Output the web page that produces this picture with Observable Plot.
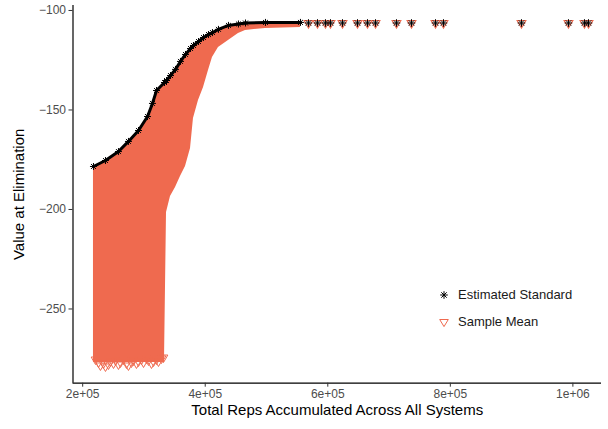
<!DOCTYPE html>
<html><head><meta charset="utf-8">
<script src="https://cdn.jsdelivr.net/npm/d3@7"></script>
<script src="https://cdn.jsdelivr.net/npm/@observablehq/plot@0.6"></script>
<style>
body{margin:0;background:#fff;font-family:"Liberation Sans",Arial,Helvetica,sans-serif}
#wrap{position:relative;width:608px;height:429px}
#legend{position:absolute;left:437px;top:281px;font-size:13px;color:#1a1a1a;line-height:13px}
.row{display:flex;align-items:center;height:27px}
.row svg{margin-right:7px}
</style></head><body><div id="wrap"><div id="legend"></div></div>
<script>
// Axis ticks
const xTicks = [200000, 400000, 600000, 800000, 1000000];
const xTickLabels = ["2e+05", "4e+05", "6e+05", "8e+05", "1e+06"];
const yTicks = [-100, -150, -200, -250];
const yTickLabels = ["\u2212100", "\u2212150", "\u2212200", "\u2212250"];
const xDomain = [184200, 1046700];
const yDomain = [-287.3, -97.5];

// Dense band of Sample Mean values: total reps, highest and lowest value at elimination
const bandX = [217600, 237200, 258400, 274700, 291100, 305800, 313900, 320500, 333500, 336800,
  343300, 351500, 359600, 367800, 376000, 380800, 389000, 397200, 405300, 411800,
  421600, 437900, 454200, 465700, 498300, 555400];
const bandHigh = [-178.4, -175.4, -170.9, -165.8, -160.3, -153.3, -146.7, -140.2, -136.2, -135.2,
  -132.7, -129.6, -125.6, -122.1, -119.1, -117.6, -115.6, -113.6, -112.1, -111.1,
  -109.5, -107.5, -106.8, -106.3, -106.0, -106.0];
const bandLow = [-276.9, -276.9, -276.9, -276.9, -276.9, -276.9, -276.9, -276.9, -276.9, -201.5,
  -193.5, -188.9, -183.4, -178.4, -169.3, -154.3, -145.2, -138.7, -130.2, -123.6,
  -118.6, -115.1, -111.6, -110.1, -109.0, -108.5];

// Lowest Sample Mean points (jagged bottom edge of the cloud)
const lowX = [220900, 225800, 229000, 233900, 237200, 242100, 245300, 250300, 253600, 258400,
  261700, 266600, 271500, 274700, 279600, 282900, 287800, 291100, 296000, 299300,
  304200, 307400, 312300, 315600, 320500, 323700, 328600, 331900];
const lowY = [-275.4, -276.9, -278.4, -277.4, -278.9, -277.9, -276.4, -277.4, -275.9, -277.9,
  -276.9, -275.4, -277.4, -278.4, -276.9, -275.9, -277.4, -276.4, -275.4, -276.9,
  -274.9, -275.9, -277.4, -276.4, -275.4, -276.4, -274.9, -274.4];

// Estimated Standard along the top of the cloud
const stdX = [217600, 237200, 258400, 274700, 291100, 305800, 313900, 320500, 333500, 336800,
  343300, 351500, 359600, 367800, 376000, 380800, 389000, 397200, 405300, 411800,
  421600, 437900, 454200, 465700, 498300, 555400];
const stdY = [-178.4, -175.4, -170.9, -165.8, -160.3, -153.3, -146.7, -140.2, -136.2, -135.2,
  -132.7, -129.6, -125.6, -122.1, -119.1, -117.6, -115.6, -113.6, -112.1, -111.1,
  -109.5, -107.5, -106.8, -106.3, -106.0, -106.0];

// Isolated late eliminations (both Estimated Standard and Sample Mean)
const lateX = [568500, 583200, 596200, 604400, 624000, 648500, 664800, 677900, 712100, 736600,
  775800, 788800, 916100, 992800, 1018900, 1025500];
const lateY = [-106.3, -106.3, -106.3, -106.3, -106.3, -106.3, -106.3, -106.3, -106.3, -106.3,
  -106.3, -106.3, -106.3, -106.3, -106.3, -106.3];

const meanColor = "#ef6a4f";

const asterisk = {draw(ctx, size) {
  const r = Math.sqrt(size / Math.PI), d = r * Math.SQRT1_2;
  ctx.moveTo(-r, 0); ctx.lineTo(r, 0);
  ctx.moveTo(0, -r); ctx.lineTo(0, r);
  ctx.moveTo(-d, -d); ctx.lineTo(d, d);
  ctx.moveTo(-d, d); ctx.lineTo(d, -d);
}};
const triDown = {draw(ctx, size) {
  const r = Math.sqrt(size / Math.PI);
  ctx.moveTo(0, r); ctx.lineTo(-r * 0.866, -r * 0.5); ctx.lineTo(r * 0.866, -r * 0.5); ctx.closePath();
}};

const band = bandX.map((x, i) => ({x, lo: bandLow[i], hi: bandHigh[i]}));
const low = lowX.map((x, i) => ({x, y: lowY[i]}));
const std = stdX.map((x, i) => ({x, y: stdY[i]}));
const late = lateX.map((x, i) => ({x, y: lateY[i]}));
const xLab = new Map(xTicks.map((t, i) => [t, xTickLabels[i]]));
const yLab = new Map(yTicks.map((t, i) => [t, yTickLabels[i]]));

const chart = Plot.plot({
  width: 608, height: 429,
  marginLeft: 72.5, marginRight: 7, marginTop: 5, marginBottom: 46.3,
  style: {fontFamily: "'Liberation Sans', Arial, Helvetica, sans-serif", fontSize: "12px", background: "white", overflow: "visible"},
  x: {domain: xDomain},
  y: {domain: yDomain},
  marks: [
    Plot.areaY(band, {x: "x", y1: "lo", y2: "hi", fill: meanColor}),
    Plot.dot(low, {x: "x", y: "y", symbol: triDown, r: 5, stroke: meanColor, fill: "none", strokeWidth: 1}),
    Plot.dot(late, {x: "x", y: "y", symbol: triDown, r: 5, stroke: meanColor, fill: "none", strokeWidth: 1.2}),
    Plot.line(std, {x: "x", y: "y", stroke: "black", strokeWidth: 3}),
    Plot.dot(std, {x: "x", y: "y", symbol: asterisk, r: 3.5, stroke: "black", fill: "none", strokeWidth: 1}),
    Plot.dot(late, {x: "x", y: "y", symbol: asterisk, r: 3.8, stroke: "black", fill: "none", strokeWidth: 1}),
    Plot.ruleX([xDomain[0]], {stroke: "black", strokeWidth: 1.2}),
    Plot.ruleY([yDomain[0]], {stroke: "black", strokeWidth: 1.2}),
    Plot.axisX({ticks: xTicks, tickFormat: d => xLab.get(d), tickSize: 4, tickPadding: 2, stroke: "#333", fill: "#4d4d4d", fontSize: 12, label: null}),
    Plot.axisY({ticks: yTicks, tickFormat: d => yLab.get(d), tickSize: 4, tickPadding: 3, stroke: "#333", fill: "#4d4d4d", fontSize: 12, label: null}),
    Plot.text(["Total Reps Accumulated Across All Systems"], {text: d => d, frameAnchor: "bottom", dy: 32, fontSize: 15, fill: "black"}),
    Plot.text(["Value at Elimination"], {text: d => d, frameAnchor: "left", textAnchor: "middle", dx: -54, rotate: -90, fontSize: 15, fill: "black"})
  ]
});
document.getElementById("wrap").prepend(chart);

const legend = document.getElementById("legend");
legend.innerHTML =
  '<div class="row"><svg width="14" height="14" viewBox="-7 -7 14 14"><path d="M-3.8,0L3.8,0M0,-3.8L0,3.8M-2.7,-2.7L2.7,2.7M-2.7,2.7L2.7,-2.7" stroke="black" fill="none" stroke-width="1"/></svg><span>Estimated Standard</span></div>' +
  '<div class="row"><svg width="14" height="14" viewBox="-7 -7 14 14"><path d="M0,4.6L-4.3,-2.5L4.3,-2.5Z" stroke="' + meanColor + '" fill="none" stroke-width="1"/></svg><span>Sample Mean</span></div>';
</script>
</body></html>
